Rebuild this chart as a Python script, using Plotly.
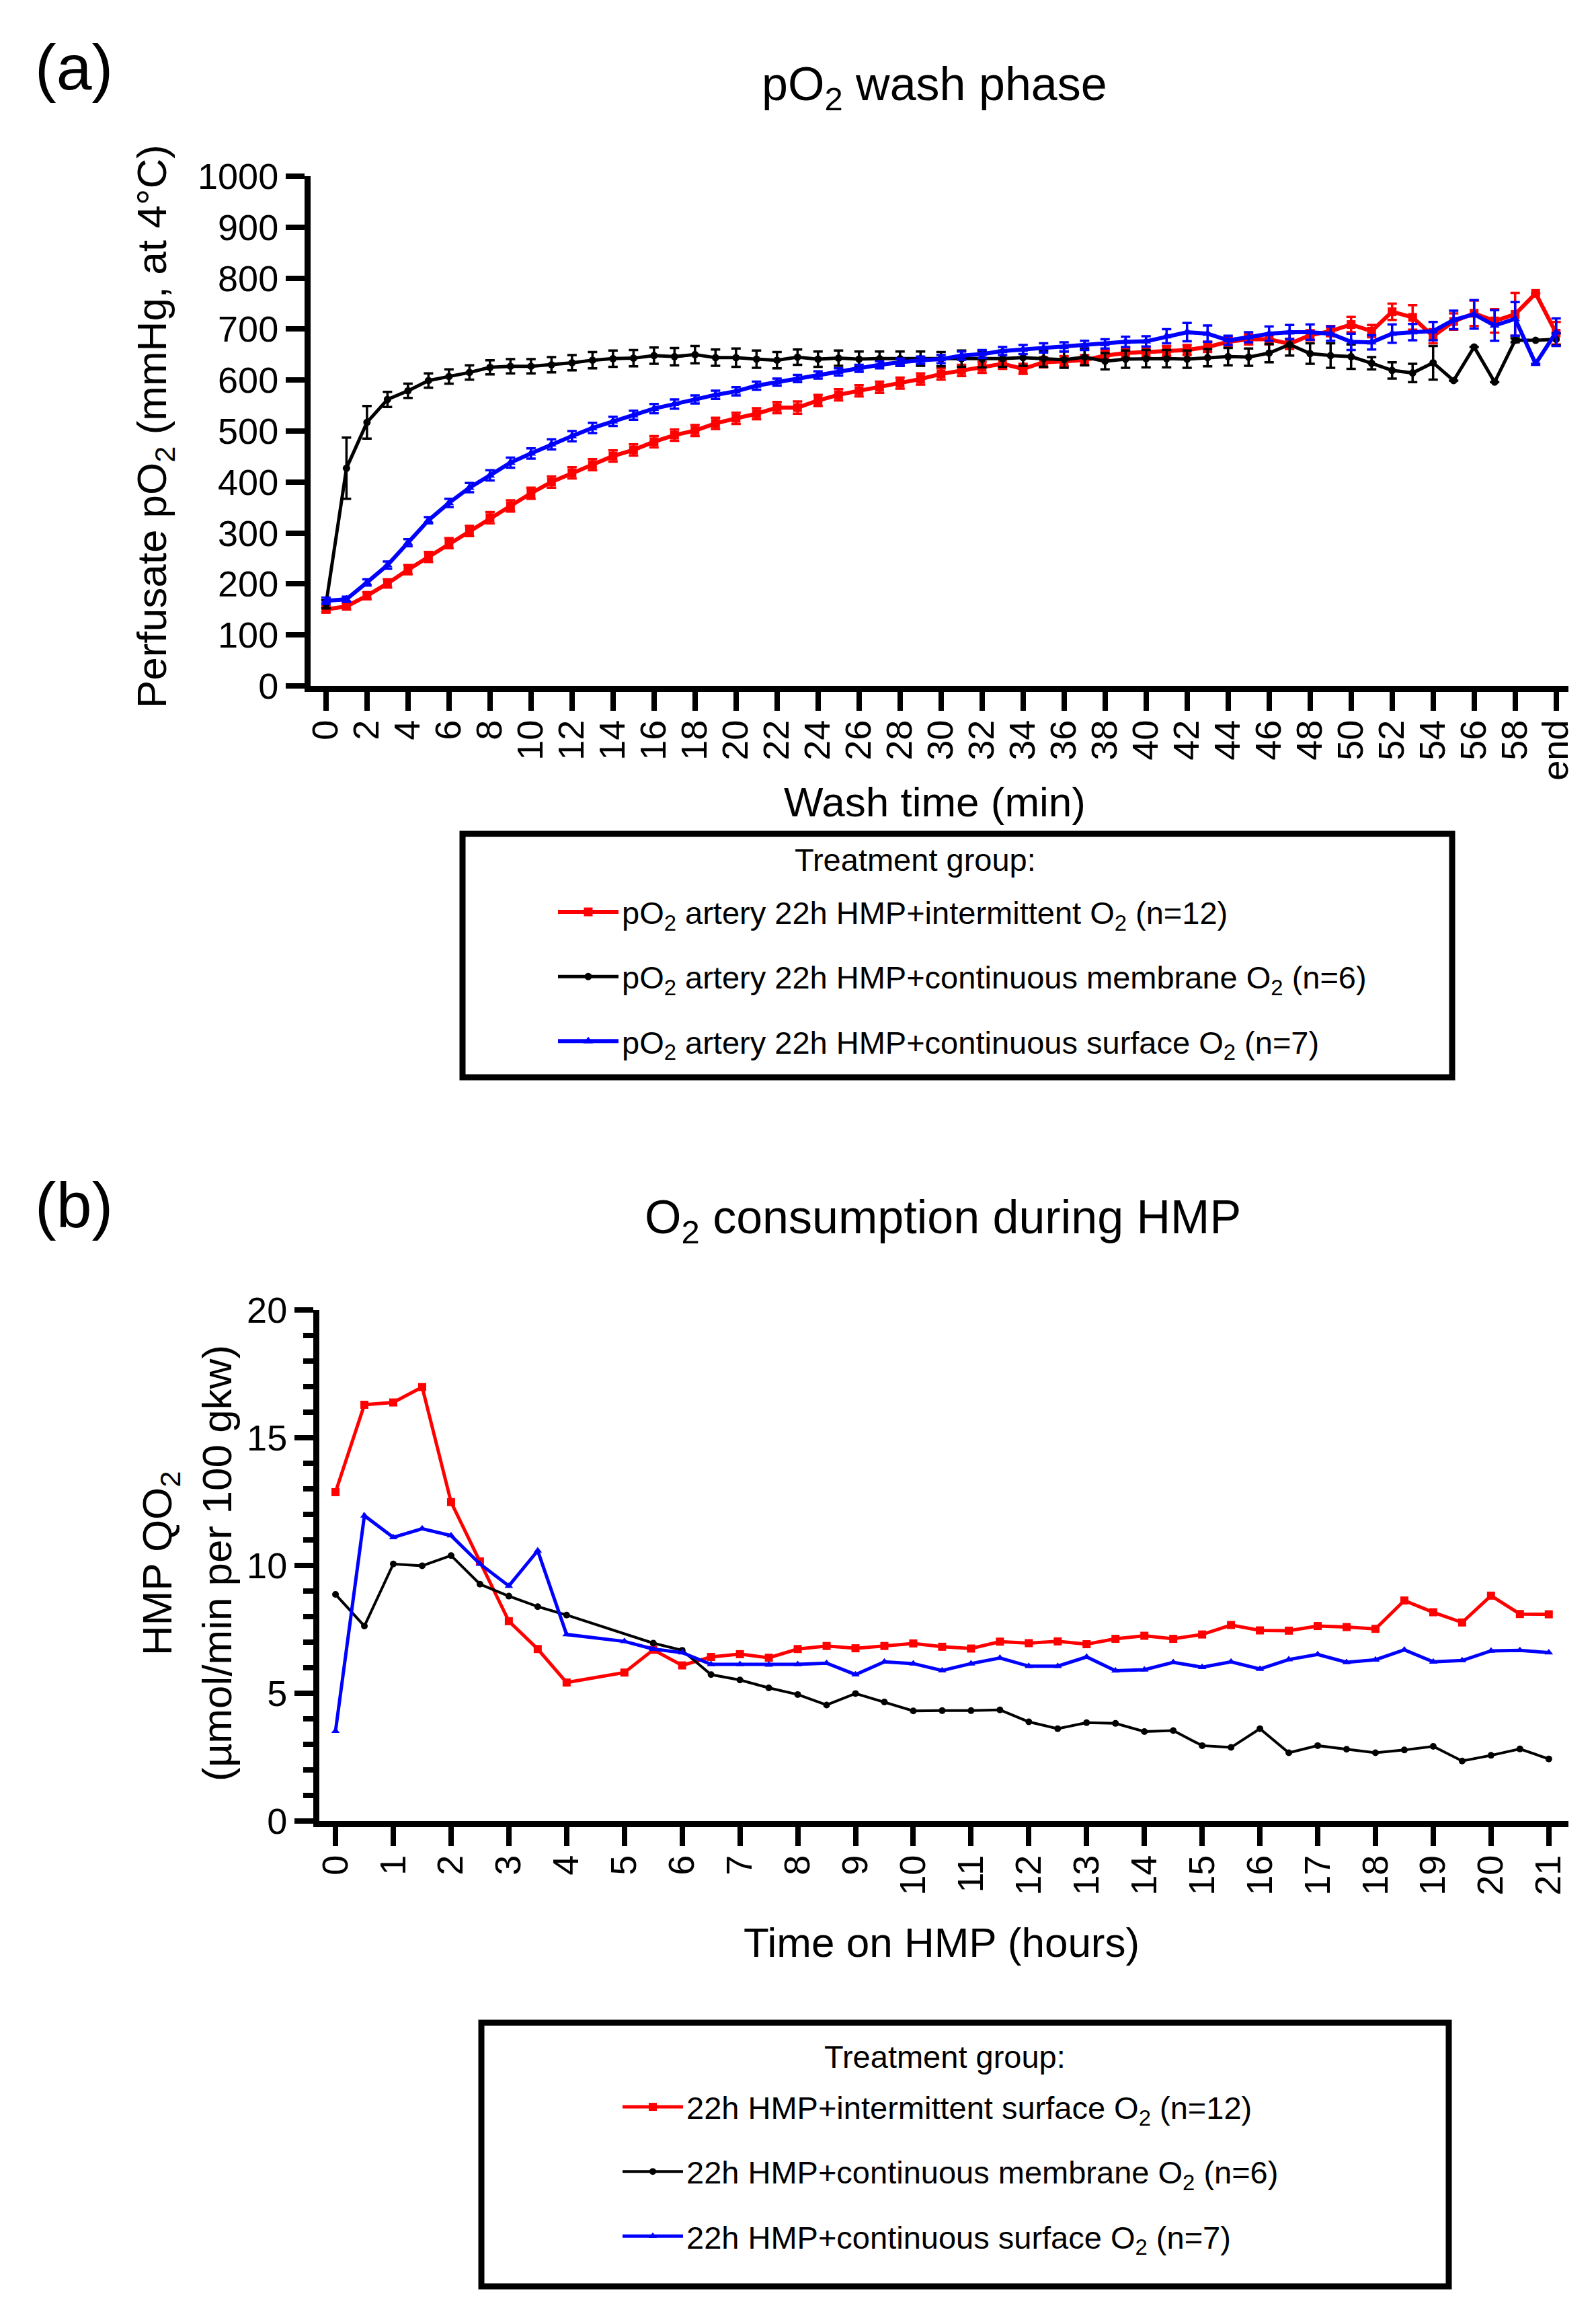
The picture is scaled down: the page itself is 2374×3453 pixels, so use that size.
import plotly.graph_objects as go

W, H = 2374, 3453
PAGE_OFFSET = 8  # default body margin of the html page
FONT = "Liberation Sans, Arial, sans-serif"

# ---- panel (a): pO2 during wash phase ----
wash_min = list(range(61))
wash_tickvals = list(range(0, 61, 2))
wash_ticktext = [str(v) for v in range(0, 60, 2)] + ["end"]

po2_intermittent = [150, 156, 177, 201, 228, 253, 280, 304, 330, 353, 378, 400, 418, 434, 451, 463,
                    479, 492, 501, 515, 525, 534, 546, 546, 560, 571, 579, 586, 594, 602, 612, 619,
                    625, 632, 622, 635, 637, 639, 648, 653, 655, 657, 659, 665, 675, 680, 680, 671,
                    688, 696, 709, 696, 734, 723, 686, 715, 731, 716, 729, 770, 692]
po2_intermittent_sem = [6, 6, 7, 8, 9, 10, 10, 10, 11, 11, 11, 11, 11, 11, 11, 11,
                        11, 11, 11, 11, 11, 11, 11, 12, 11, 11, 11, 11, 11, 11, 11, 11,
                        11, 10, 10, 10, 10, 10, 10, 10, 10, 10, 10, 10, 10, 10, 10, 10,
                        10, 10, 15, 12, 16, 24, 14, 16, 25, 23, 42, 0, 22]

po2_membrane = [160, 427, 517, 562, 579, 599, 607, 615, 625, 627, 627, 630, 634, 639, 642, 643,
                648, 646, 650, 644, 644, 641, 639, 645, 641, 643, 641, 642, 642, 642, 641, 642,
                641, 642, 644, 642, 640, 645, 637, 641, 642, 642, 641, 644, 646, 645, 653, 670,
                652, 648, 646, 633, 619, 614, 634, 599, 665, 596, 678, 678, 680]
po2_membrane_sem = [8, 60, 32, 15, 14, 14, 14, 14, 14, 14, 14, 15, 15, 16, 16, 16,
                    16, 17, 17, 16, 18, 17, 16, 15, 15, 15, 15, 14, 14, 14, 14, 16,
                    16, 16, 16, 16, 16, 16, 16, 17, 17, 17, 17, 17, 17, 17, 18, 22,
                    20, 24, 24, 12, 16, 18, 33, 0, 0, 0, 4, 0, 12]

po2_surface = [167, 170, 203, 237, 281, 325, 359, 389, 413, 438, 456, 474, 490, 506, 519, 531,
               544, 553, 562, 571, 578, 589, 596, 603, 610, 616, 623, 630, 635, 639, 641, 648,
               651, 657, 660, 663, 665, 668, 671, 675, 676, 686, 694, 691, 678, 684, 691, 694,
               694, 691, 675, 674, 691, 694, 696, 718, 729, 707, 720, 632, 694]
po2_surface_sem = [6, 5, 6, 7, 7, 6, 8, 9, 10, 10, 10, 10, 10, 10, 9, 9,
                   9, 9, 8, 8, 8, 8, 7, 7, 7, 7, 7, 7, 7, 7, 8, 8,
                   8, 8, 9, 9, 9, 9, 9, 10, 10, 14, 18, 16, 9, 10, 14, 14,
                   15, 14, 16, 14, 18, 16, 18, 18, 28, 30, 33, 0, 27]

# ---- panel (b): O2 consumption during HMP ----
hmp_hours = [0, 0.5, 1, 1.5, 2, 2.5, 3, 3.5, 4, 5, 5.5, 6, 6.5, 7, 7.5, 8, 8.5, 9, 9.5, 10,
             10.5, 11, 11.5, 12, 12.5, 13, 13.5, 14, 14.5, 15, 15.5, 16, 16.5, 17, 17.5, 18,
             18.5, 19, 19.5, 20, 20.5, 21]
qo2_intermittent = [12.87, 16.29, 16.38, 16.98, 12.48, 10.16, 7.82, 6.73, 5.42, 5.81, 6.70, 6.09,
                    6.42, 6.53, 6.39, 6.73, 6.85, 6.76, 6.85, 6.95, 6.82, 6.75, 7.02, 6.96, 7.03,
                    6.92, 7.13, 7.25, 7.13, 7.30, 7.67, 7.46, 7.45, 7.63, 7.59, 7.52, 8.63, 8.17,
                    7.77, 8.82, 8.10, 8.09]
qo2_membrane = [8.87, 7.63, 10.06, 9.99, 10.39, 9.27, 8.80, 8.39, 8.06, None, 6.96, 6.68,
                5.73, 5.52, 5.21, 4.95, 4.54, 4.99, 4.66, 4.31, 4.32, 4.32, 4.35, 3.88, 3.61,
                3.85, 3.82, 3.50, 3.54, 2.95, 2.88, 3.61, 2.67, 2.95, 2.81, 2.67, 2.78, 2.92,
                2.35, 2.57, 2.82, 2.43]
qo2_surface = [3.52, 11.95, 11.10, 11.44, 11.17, 10.06, 9.20, 10.58, 7.30, 7.03, 6.73, 6.59,
               6.13, 6.13, 6.11, 6.13, 6.18, 5.73, 6.23, 6.16, 5.89, 6.16, 6.38, 6.06, 6.06,
               6.42, 5.88, 5.92, 6.21, 6.02, 6.23, 5.95, 6.32, 6.52, 6.21, 6.31, 6.70, 6.23,
               6.28, 6.66, 6.68, 6.59]
hmp_ticks = list(range(22))

legend_a = ["pO<sub>2</sub> artery 22h HMP+intermittent O<sub>2</sub> (n=12)",
            "pO<sub>2</sub> artery 22h HMP+continuous membrane O<sub>2</sub> (n=6)",
            "pO<sub>2</sub> artery 22h HMP+continuous surface O<sub>2</sub> (n=7)"]
legend_b = ["22h HMP+intermittent surface O<sub>2</sub> (n=12)",
            "22h HMP+continuous membrane O<sub>2</sub> (n=6)",
            "22h HMP+continuous surface O<sub>2</sub> (n=7)"]

RED, BLACK, BLUE = "#ff0000", "#000000", "#0000ff"


def px_y(p):
    return 1 - (p - PAGE_OFFSET) / H


def px_x(p):
    return (p - PAGE_OFFSET) / W


fig = go.Figure()

# panel (a) traces
for name, ys, err, color, sym, msize, lw, grp in [
    (legend_a[0], po2_intermittent, po2_intermittent_sem, RED, "square", 13, 6, "a1"),
    (legend_a[1], po2_membrane, po2_membrane_sem, BLACK, "circle", 11, 5, "a2"),
    (legend_a[2], po2_surface, po2_surface_sem, BLUE, "triangle-up", 13, 6, "a3"),
]:
    fig.add_trace(go.Scatter(
        x=wash_min, y=ys, name=name, mode="lines+markers",
        line=dict(color=color, width=lw),
        marker=dict(color=color, symbol=sym, size=msize),
        error_y=dict(type="data", array=err, visible=True, color=color, thickness=3.5, width=7),
        xaxis="x", yaxis="y", legend="legend", legendgroup=grp, cliponaxis=False,
    ))

# panel (b) traces
for name, ys, color, sym, msize, lw, grp in [
    (legend_b[0], qo2_intermittent, RED, "square", 12, 5, "b1"),
    (legend_b[1], qo2_membrane, BLACK, "circle", 10, 4, "b2"),
    (legend_b[2], qo2_surface, BLUE, "triangle-up", 11, 5, "b3"),
]:
    fig.add_trace(go.Scatter(
        x=hmp_hours, y=ys, name=name, mode="lines+markers", connectgaps=True,
        line=dict(color=color, width=lw),
        marker=dict(color=color, symbol=sym, size=msize),
        xaxis="x2", yaxis="y2", legend="legend2", legendgroup=grp, cliponaxis=False,
    ))

axis_style = dict(showline=True, linecolor="black", linewidth=9, ticks="outside",
                  ticklen=28, tickwidth=8, tickcolor="black", showgrid=False,
                  zeroline=False, automargin=False,
                  tickfont=dict(family=FONT, size=54, color="black"))

legend_common = dict(xanchor="left", yanchor="top", bgcolor="rgba(0,0,0,0)",
                     borderwidth=0, font=dict(family=FONT, size=47, color="black"),
                     tracegroupgap=32, itemwidth=90)

fig.update_layout(
    width=W, height=H,
    margin=dict(l=0, r=0, t=0, b=0, autoexpand=False),
    paper_bgcolor="white", plot_bgcolor="white",
    font=dict(family=FONT, color="black"),
    xaxis=dict(axis_style, domain=[px_x(462), px_x(2333)], range=[-0.75, 60.6],
               tickmode="array", tickvals=wash_tickvals, ticktext=wash_ticktext,
               tickangle=-90, ticklabelstandoff=-8, anchor="y"),
    yaxis=dict(axis_style, domain=[px_y(1020), px_y(262)], range=[0, 1000],
               dtick=100, anchor="x"),
    xaxis2=dict(axis_style, domain=[px_x(475), px_x(2333)], range=[-0.28, 21.34],
                tickmode="array", tickvals=hmp_ticks, tickangle=-90,
                ticklabelstandoff=-8, anchor="y2"),
    yaxis2=dict(axis_style, domain=[px_y(2708), px_y(1948)], range=[0, 20], dtick=5,
                anchor="x2",
                minor=dict(dtick=1, ticks="outside", ticklen=15, tickwidth=8,
                           tickcolor="black")),
    legend=dict(legend_common, x=px_x(825), y=px_y(1319)),
    legend2=dict(legend_common, x=px_x(921), y=px_y(3096)),
    shapes=[
        dict(type="rect", xref="paper", yref="paper", x0=px_x(688), x1=px_x(2160),
             y0=px_y(1602), y1=px_y(1240), line=dict(color="black", width=9)),
        dict(type="rect", xref="paper", yref="paper", x0=px_x(716), x1=px_x(2155),
             y0=px_y(3400), y1=px_y(3008), line=dict(color="black", width=9)),
    ],
)

annotations = [
    ("(a)", 110, 100, 95, 0),
    ("(b)", 110, 1792, 95, 0),
    ("pO<sub>2</sub> wash phase", 1390, 130, 70, 0),
    ("O<sub>2</sub> consumption during HMP", 1402, 1815, 70, 0),
    ("Perfusate pO<sub>2</sub> (mmHg, at 4°C)", 230, 634, 62, -90),
    ("Wash time (min)", 1390, 1192, 62, 0),
    ("HMP QO<sub>2</sub>", 238, 2325, 62, -90),
    ("(µmol/min per 100 gkw)", 322, 2325, 62, -90),
    ("Time on HMP (hours)", 1400, 2888, 62, 0),
    ("Treatment group:", 1361, 1278, 47, 0),
    ("Treatment group:", 1405, 3058, 47, 0),
]
for text, ax, ay, size, angle in annotations:
    fig.add_annotation(text=text, x=px_x(ax), y=px_y(ay), xref="paper", yref="paper",
                       xanchor="center", yanchor="middle", showarrow=False,
                       textangle=angle, font=dict(family=FONT, size=size, color="black"))

fig.write_html("out.html")
